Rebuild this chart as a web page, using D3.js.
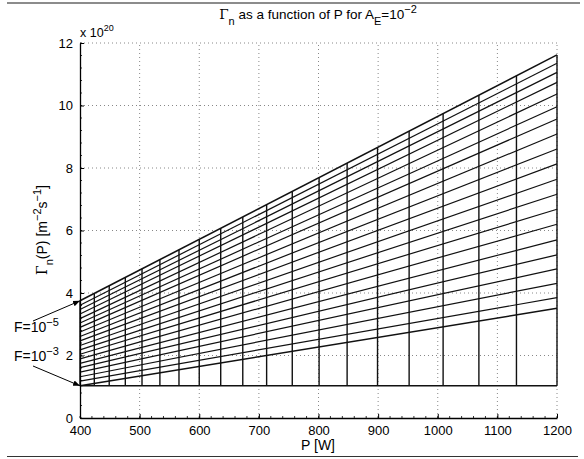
<!DOCTYPE html>
<html>
<head>
<meta charset="utf-8">
<script src="https://cdn.jsdelivr.net/npm/d3@7"></script>
<style>
  body { margin: 0; background: #fff; }
  svg { font-family: "Liberation Sans", Arial, sans-serif; }
  .grid line { stroke: #888; stroke-dasharray: 1 3; stroke-width: 1; }
</style>
</head>
<body>
<svg id="chart" width="584" height="459"></svg>
<script>
(function() {
    var width = 584, height = 459;

    // axis ticks
    var xTicks = [400, 500, 600, 700, 800, 900, 1000, 1100, 1200];
    var yTicks = [0, 2, 4, 6, 8, 10, 12];

    // P values of the mesh columns (W)
    var meshP = [400, 424, 449, 476, 504, 534, 566, 600, 636, 673, 713, 756, 801, 848, 899, 952, 1009, 1069, 1132, 1200];

    // Gamma_n (x 10^20) at P=400 and P=1200 for each F line, F=1e-5 (top) ... F=1e-3 (bottom)
    var gammaLeft  = [3.75, 3.61, 3.47, 3.33, 3.18, 3.04, 2.90, 2.75, 2.61, 2.47, 2.32, 2.18, 2.04, 1.89, 1.75, 1.61, 1.47, 1.32, 1.18, 1.03];
    var gammaRight = [11.62, 11.35, 11.06, 10.74, 10.37, 9.96, 9.57, 9.09, 8.61, 8.13, 7.64, 7.16, 6.68, 6.20, 5.70, 5.22, 4.77, 4.31, 3.85, 3.51];
    var baseGamma = 1.03; // flat bottom line

    var svg = d3.select("#chart");

    var x = d3.scaleLinear().domain([400, 1200]).range([80, 557]);
    var y = d3.scaleLinear().domain([0, 12]).range([418, 43]);

    // page rules
    svg.append("line").attr("x1", 7).attr("x2", 580).attr("y1", 3).attr("y2", 3)
        .attr("stroke", "#666").attr("stroke-width", 1.5);
    svg.append("line").attr("x1", 7).attr("x2", 578).attr("y1", 456.5).attr("y2", 456.5)
        .attr("stroke", "#333").attr("stroke-width", 1);

    // grid
    var grid = svg.append("g").attr("class", "grid");
    grid.selectAll(".gx").data(xTicks.slice(1)).join("line")
        .attr("x1", d => x(d)).attr("x2", d => x(d)).attr("y1", y(0)).attr("y2", y(12));
    grid.selectAll(".gy").data(yTicks.slice(1)).join("line")
        .attr("y1", d => y(d)).attr("y2", d => y(d)).attr("x1", x(400)).attr("x2", x(1200));

    var topLine = function(p) {
        return gammaLeft[0] + (gammaRight[0] - gammaLeft[0]) * (p - 400) / 800;
    };

    var mesh = svg.append("g").attr("stroke", "#111").attr("fill", "none");

    // vertical mesh lines
    mesh.selectAll(".v").data(meshP).join("line")
        .attr("x1", d => x(d)).attr("x2", d => x(d))
        .attr("y1", y(baseGamma)).attr("y2", d => y(topLine(d)))
        .attr("stroke-width", 1.4);

    // base line
    mesh.append("line")
        .attr("x1", x(400)).attr("x2", x(1200))
        .attr("y1", y(baseGamma)).attr("y2", y(baseGamma))
        .attr("stroke-width", 1.4);

    // F lines
    mesh.selectAll(".f").data(d3.range(gammaLeft.length)).join("line")
        .attr("x1", x(400)).attr("x2", x(1200))
        .attr("y1", i => y(gammaLeft[i])).attr("y2", i => y(gammaRight[i]))
        .attr("stroke-width", i => (i === 0 || i === gammaLeft.length - 1) ? 1.6 : 1.2);

    // axes
    var xAxis = svg.append("g").attr("transform", "translate(0," + y(0) + ")")
        .call(d3.axisBottom(x).tickValues(xTicks).tickFormat(d3.format("d"))
            .tickSizeInner(-4).tickSizeOuter(0).tickPadding(8));
    var yAxis = svg.append("g").attr("transform", "translate(" + x(400) + ",0)")
        .call(d3.axisLeft(y).tickValues(yTicks).tickFormat(d3.format("d"))
            .tickSizeInner(-4).tickSizeOuter(0).tickPadding(7));
    [xAxis, yAxis].forEach(function(g) {
        g.select(".domain").attr("stroke", "#000").attr("stroke-width", 1.3);
        g.selectAll(".tick line").attr("stroke", "#000");
        g.selectAll(".tick text").attr("font-size", 13).attr("fill", "#000")
            .attr("font-family", "Liberation Sans, Arial, sans-serif");
    });
    // minor ticks
    svg.append("g").selectAll("line").data(d3.range(400, 1201, 20)).join("line")
        .attr("x1", d => x(d)).attr("x2", d => x(d)).attr("y1", y(0)).attr("y2", y(0) - 2)
        .attr("stroke", "#000").attr("stroke-width", 0.8);
    svg.append("g").selectAll("line").data(d3.range(0, 12.01, 0.4)).join("line")
        .attr("y1", d => y(d)).attr("y2", d => y(d)).attr("x1", x(400)).attr("x2", x(400) + 2)
        .attr("stroke", "#000").attr("stroke-width", 0.8);

    // exponent label
    var ex = svg.append("text").attr("x", 80).attr("y", 37).attr("font-size", 12.5);
    ex.append("tspan").text("x 10");
    ex.append("tspan").attr("dy", -6).attr("font-size", 9).text("20");

    // title
    var t = svg.append("text").attr("x", 318).attr("y", 19).attr("text-anchor", "middle").attr("font-size", 13.5);
    t.append("tspan").attr("font-family", "DejaVu Serif, serif").text("Γ");
    t.append("tspan").attr("dy", 6).attr("font-size", 11).text("n");
    t.append("tspan").attr("dy", -6).text(" as a function of P for A");
    t.append("tspan").attr("dy", 6).attr("font-size", 11).text("E");
    t.append("tspan").attr("dy", -6).text("=10");
    t.append("tspan").attr("dy", -6).attr("font-size", 11).text("−2");

    // x label
    svg.append("text").attr("x", 318).attr("y", 450).attr("text-anchor", "middle")
        .attr("font-size", 14).text("P [W]");

    // y label
    var yl = svg.append("text").attr("transform", "translate(47,230) rotate(-90)")
        .attr("text-anchor", "middle").attr("font-size", 14);
    yl.append("tspan").attr("font-family", "DejaVu Serif, serif").text("Γ");
    yl.append("tspan").attr("dy", 6).attr("font-size", 11).text("n");
    yl.append("tspan").attr("dy", -6).text("(P) [m");
    yl.append("tspan").attr("dy", -6).attr("font-size", 11).text("−2");
    yl.append("tspan").attr("dy", 6).text("s");
    yl.append("tspan").attr("dy", -6).attr("font-size", 11).text("−1");
    yl.append("tspan").attr("dy", 6).text("]");

    // annotations
    svg.append("defs").append("marker").attr("id", "arr")
        .attr("viewBox", "0 0 10 10").attr("refX", 10).attr("refY", 5)
        .attr("markerWidth", 7).attr("markerHeight", 7).attr("orient", "auto")
        .append("path").attr("d", "M0,1 L10,5 L0,9 Z").attr("fill", "#000");

    var ann = [
        { label: "−5", ty: 332, fx: 33, fy: 321, p: 400, g: gammaLeft[0] },
        { label: "−3", ty: 361, fx: 33, fy: 366, p: 400, g: gammaLeft[gammaLeft.length - 1] }
    ];
    ann.forEach(function(a) {
        var tx = svg.append("text").attr("x", 14).attr("y", a.ty).attr("font-size", 14);
        tx.append("tspan").text("F=10");
        tx.append("tspan").attr("dy", -6).attr("font-size", 11).text(a.label);
        svg.append("line").attr("x1", a.fx).attr("y1", a.fy)
            .attr("x2", x(a.p)).attr("y2", y(a.g))
            .attr("stroke", "#000").attr("stroke-width", 1).attr("marker-end", "url(#arr)");
    });
})();
</script>
</body>
</html>
